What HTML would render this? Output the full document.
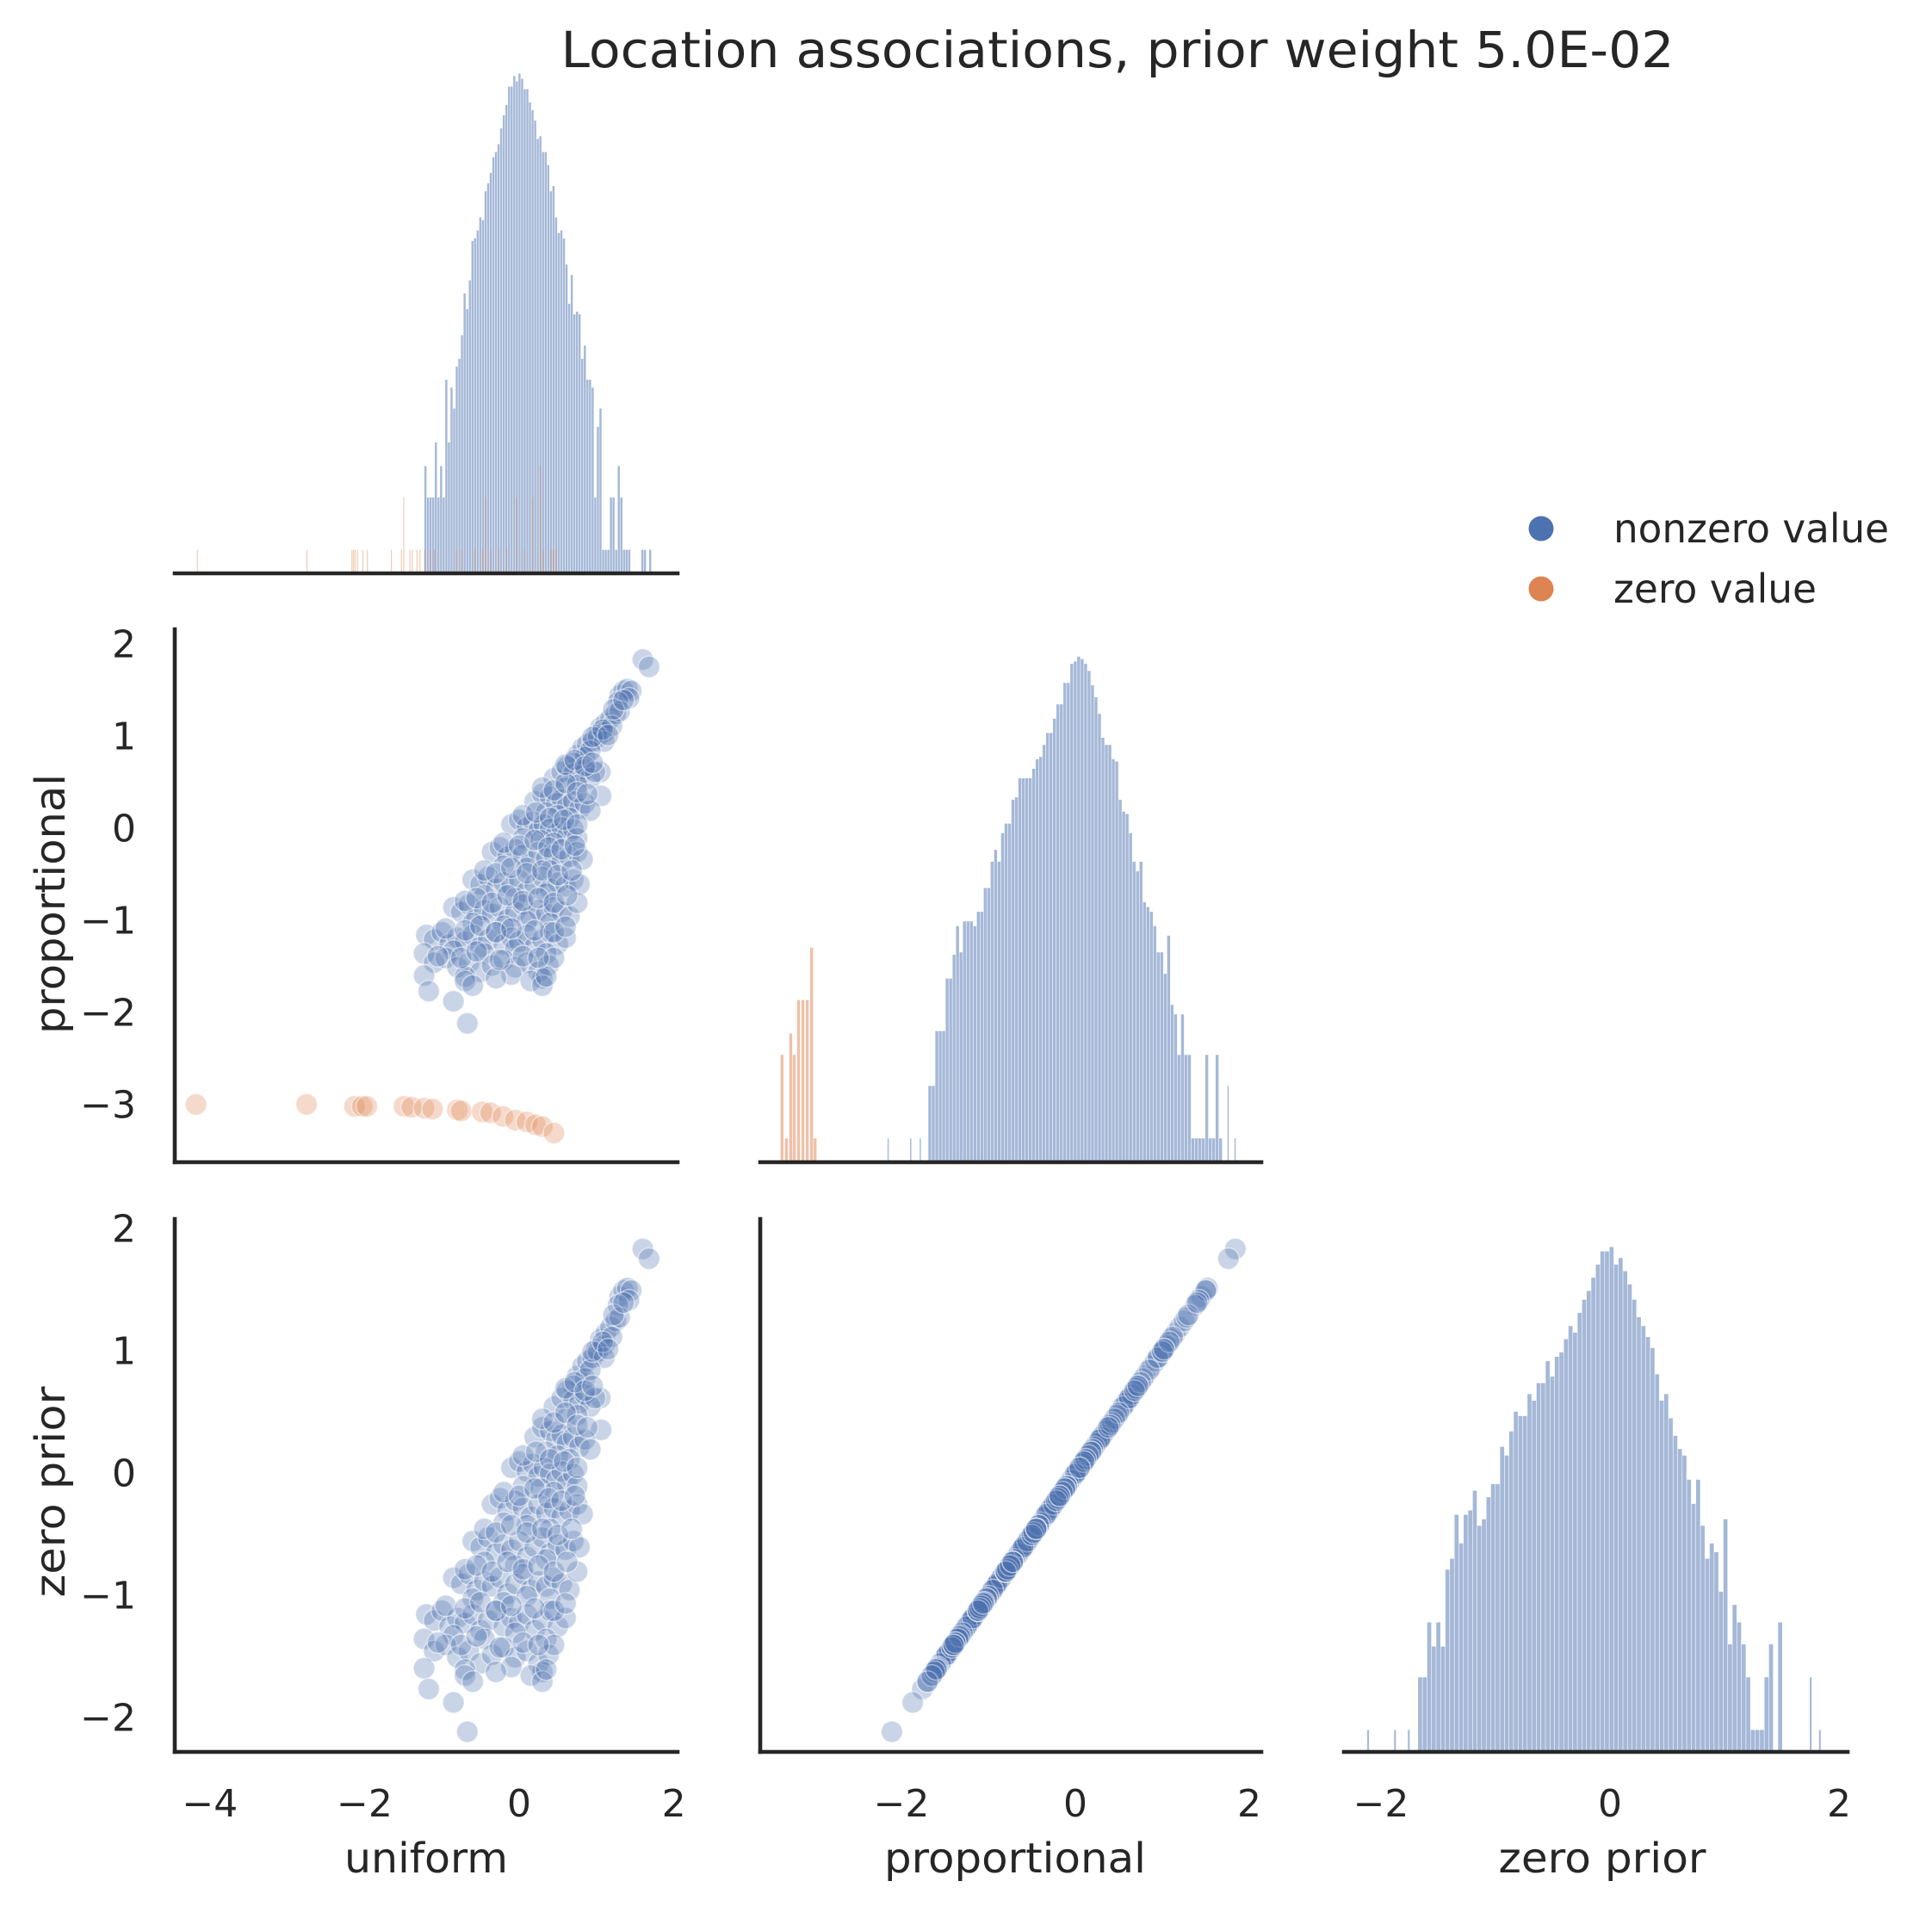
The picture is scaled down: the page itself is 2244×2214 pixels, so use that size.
<!DOCTYPE html>
<html><head><meta charset="utf-8"><style>
html,body{margin:0;padding:0;background:#fff;}
svg{display:block;font-family:"DejaVu Sans","Liberation Sans",sans-serif;}
</style></head><body>
<svg id="chart" width="2244" height="2214" viewBox="0 0 2244 2214" xmlns="http://www.w3.org/2000/svg">
<rect width="2244" height="2214" fill="#fff"/>
<text x="1298" y="78" font-size="58" fill="#262626" text-anchor="middle" textLength="1293" lengthAdjust="spacingAndGlyphs">Location associations, prior weight 5.0E-02</text>
<g id="plots"></g>
<g>
<circle cx="1790" cy="614" r="14.5" fill="#4c72b0"/>
<text x="1874" y="614" dy="0.35em" font-size="46" fill="#262626" textLength="320" lengthAdjust="spacingAndGlyphs">nonzero value</text>
<circle cx="1790" cy="684" r="14.5" fill="#dd8452"/>
<text x="1874" y="684" dy="0.35em" font-size="46" fill="#262626" textLength="236" lengthAdjust="spacingAndGlyphs">zero value</text>
</g>
</svg>
<script>
// ---- data ----
const uniformVals = [
1.60,1.68,
1.30,1.35,1.40,1.45,1.42,1.28,
1.05,1.12,1.18,1.25,1.30,1.10,1.20,1.00,
0.75,0.82,0.88,0.95,1.02,1.10,0.85,0.92,0.70,1.05,
0.45,0.55,0.62,0.70,0.78,0.85,0.92,0.98,0.60,0.75,1.06,
0.20,0.30,0.40,0.48,0.55,0.62,0.70,0.78,0.85,0.35,0.50,0.65,0.92,
-0.10,0.00,0.10,0.18,0.25,0.32,0.40,0.48,0.55,0.62,0.70,0.05,0.28,0.45,0.75,
-0.35,-0.25,-0.15,-0.05,0.05,0.15,0.25,0.35,0.45,0.55,0.65,0.75,-0.20,0.10,0.40,0.82,
-0.60,-0.50,-0.40,-0.30,-0.20,-0.10,0.00,0.10,0.20,0.30,0.40,0.50,0.60,0.70,-0.45,-0.05,0.35,0.78,
-0.85,-0.75,-0.65,-0.55,-0.45,-0.35,-0.25,-0.15,-0.05,0.05,0.15,0.25,0.35,0.45,0.55,0.65,-0.60,-0.20,0.10,0.40,0.75,
-1.20,-1.10,-1.00,-0.90,-0.80,-0.70,-0.60,-0.50,-0.40,-0.30,-0.20,-0.10,0.00,0.10,0.20,0.30,0.40,0.50,0.60,-0.85,-0.45,-0.05,0.35,
-1.23,-1.10,-0.95,-0.80,-0.65,-0.50,-0.35,-0.20,-0.05,0.10,0.25,0.38,0.45,-0.70,-0.10,0.30,
-1.23,-1.17,-0.85,-0.70,-0.60,-0.30,0.15,0.30,0.35,
-0.67,
-1.05,-0.75,-0.55,-0.25,0.05,0.25,
-0.95,-0.70,-0.50,-0.30,-0.10,0.20,0.45,0.60,
-0.70,-0.55,-0.35,-0.15,0.05,0.25,0.45,0.62,
-0.45,-0.30,-0.10,0.10,0.30,0.50,0.68,
-0.20,0.00,0.20,0.38,0.55,0.72,
0.05,0.22,0.40,0.58,0.75,
0.30,0.45,0.60,0.75,0.88,
0.60,0.72,0.85,0.95,
0.95,1.08,1.15,
1.22,1.35];
const propVals = [
1.84,1.76,
1.45,1.50,1.52,1.50,1.42,1.38,
1.10,1.15,1.20,1.25,1.28,1.05,1.12,1.02,
0.80,0.88,0.92,0.95,1.00,0.95,0.78,0.85,0.72,0.62,
0.55,0.62,0.68,0.60,0.58,0.65,0.55,0.62,0.45,0.48,0.36,
0.30,0.38,0.35,0.28,0.32,0.25,0.30,0.22,0.28,0.18,0.15,0.12,0.20,
0.05,0.10,0.02,0.08,-0.02,0.05,0.00,-0.05,0.02,-0.08,0.00,-0.10,-0.12,-0.15,-0.10,
-0.25,-0.20,-0.30,-0.22,-0.28,-0.35,-0.25,-0.32,-0.28,-0.35,-0.30,-0.25,-0.40,-0.42,-0.45,-0.33,
-0.55,-0.60,-0.52,-0.65,-0.58,-0.62,-0.55,-0.68,-0.60,-0.52,-0.65,-0.58,-0.62,-0.55,-0.72,-0.75,-0.70,-0.60,
-0.85,-0.90,-0.82,-0.95,-0.88,-0.92,-0.85,-0.98,-0.90,-0.82,-0.95,-0.88,-0.92,-0.85,-0.90,-0.95,-1.02,-1.05,-1.00,-1.02,-0.80,
-1.15,-1.20,-1.12,-1.25,-1.18,-1.22,-1.15,-1.28,-1.20,-1.12,-1.25,-1.18,-1.22,-1.15,-1.28,-1.20,-1.12,-1.25,-1.18,-1.32,-1.35,-1.30,-1.35,
-1.35,-1.45,-1.40,-1.50,-1.45,-1.55,-1.48,-1.42,-1.50,-1.45,-1.55,-1.48,-1.40,-1.60,-1.58,-1.62,
-1.59,-1.76,-1.87,-1.65,-1.70,-1.62,-1.65,-1.70,-1.60,
-2.11,
-1.38,-1.40,-1.33,-1.42,-1.38,-1.40,
-1.08,-1.10,-1.05,-1.12,-1.08,-1.10,-1.12,-1.06,
-0.78,-0.75,-0.80,-0.72,-0.78,-0.75,-0.80,-0.72,
-0.45,-0.48,-0.42,-0.48,-0.45,-0.50,-0.45,
-0.15,-0.18,-0.12,-0.20,-0.22,-0.18,
0.15,0.18,0.12,0.10,0.05,
0.45,0.42,0.50,0.40,0.38,
0.70,0.75,0.68,0.72,
1.00,1.08,1.02,
1.30,1.40];
const zeroPriorVals = [
1.84,1.76,
1.45,1.50,1.52,1.50,1.42,1.38,
1.10,1.15,1.20,1.25,1.28,1.05,1.12,1.02,
0.80,0.88,0.92,0.95,1.00,0.95,0.78,0.85,0.72,0.62,
0.55,0.62,0.68,0.60,0.58,0.65,0.55,0.62,0.45,0.48,0.36,
0.30,0.38,0.35,0.28,0.32,0.25,0.30,0.22,0.28,0.18,0.15,0.12,0.20,
0.05,0.10,0.02,0.08,-0.02,0.05,0.00,-0.05,0.02,-0.08,0.00,-0.10,-0.12,-0.15,-0.10,
-0.25,-0.20,-0.30,-0.22,-0.28,-0.35,-0.25,-0.32,-0.28,-0.35,-0.30,-0.25,-0.40,-0.42,-0.45,-0.33,
-0.55,-0.60,-0.52,-0.65,-0.58,-0.62,-0.55,-0.68,-0.60,-0.52,-0.65,-0.58,-0.62,-0.55,-0.72,-0.75,-0.70,-0.60,
-0.85,-0.90,-0.82,-0.95,-0.88,-0.92,-0.85,-0.98,-0.90,-0.82,-0.95,-0.88,-0.92,-0.85,-0.90,-0.95,-1.02,-1.05,-1.00,-1.02,-0.80,
-1.15,-1.20,-1.12,-1.25,-1.18,-1.22,-1.15,-1.28,-1.20,-1.12,-1.25,-1.18,-1.22,-1.15,-1.28,-1.20,-1.12,-1.25,-1.18,-1.32,-1.35,-1.30,-1.35,
-1.35,-1.45,-1.40,-1.50,-1.45,-1.55,-1.48,-1.42,-1.50,-1.45,-1.55,-1.48,-1.40,-1.60,-1.58,-1.62,
-1.59,-1.76,-1.87,-1.65,-1.70,-1.62,-1.65,-1.70,-1.60,
-2.11,
-1.38,-1.40,-1.33,-1.42,-1.38,-1.40,
-1.08,-1.10,-1.05,-1.12,-1.08,-1.10,-1.12,-1.06,
-0.78,-0.75,-0.80,-0.72,-0.78,-0.75,-0.80,-0.72,
-0.45,-0.48,-0.42,-0.48,-0.45,-0.50,-0.45,
-0.15,-0.18,-0.12,-0.20,-0.22,-0.18,
0.15,0.18,0.12,0.10,0.05,
0.45,0.42,0.50,0.40,0.38,
0.70,0.75,0.68,0.72,
1.00,1.08,1.02,
1.30,1.40];
const zeroUniformVals = [-4.18,-2.75,-2.13,-2.03,-1.97,-1.49,-1.39,-1.23,-1.12,-0.80,-0.75,-0.48,-0.37,-0.21,-0.05,0.10,0.21,0.30,0.45];
const zeroPropVals = [-2.99,-2.99,-3.01,-3.01,-3.01,-3.01,-3.02,-3.03,-3.04,-3.05,-3.06,-3.07,-3.08,-3.12,-3.16,-3.18,-3.21,-3.23,-3.30];

// uniform histogram (nonzero) : bin start, bin width, counts
const uniformHistStart = -1.226;
const uniformHistWidth = 0.0338;
const uniformHistCounts = [4.1,2.9,2.9,2.9,5.0,2.9,4.1,2.9,7.4,5.0,7.1,6.3,7.9,8.2,9.1,10.7,10.1,11.2,12.7,12.8,13.1,13.6,13.5,14.6,14.9,15.3,15.9,16.1,16.4,17.0,17.5,17.9,18.6,18.6,19.0,18.8,19.1,18.9,18.5,18.5,18.0,17.7,17.3,16.6,16.7,16.1,16.1,15.6,14.6,14.8,13.6,13.0,13.1,12.8,11.8,10.3,11.4,9.9,10.0,9.9,8.2,8.7,7.4,7.4,7.1,2.9,5.6,6.3,0.9,0.9,0.9,2.9,2.9,0.9,4.1,2.9,0.9,0.9,0.9,0,0,0,0,0.9,0.9,0,0.9];
// uniform histogram (zero values): bin centers and counts
const uniformZeroBins = [-4.16,-2.74,-2.16,-2.14,-2.12,-2.09,-2.02,-1.96,-1.65,-1.52,-1.49,-1.41,-1.38,-1.32,-1.28,-1.22,-1.15,-1.09,-0.81,-0.74,-0.57,-0.47,-0.43,-0.36,-0.26,-0.16,-0.03,0.07,0.18,0.28,0.31,0.41,0.44,0.48];
const uniformZeroCounts = [0.9,0.9,0.9,0.9,0.9,0.9,0.9,0.9,0.9,0.9,2.9,0.9,0.9,0.9,0.9,0.9,0.9,0.9,0.9,0.9,0.9,0.9,2.9,0.9,0.9,0.9,2.9,0.9,2.9,4.1,0.9,0.9,0.9,0.9];

// proportional histogram (nonzero)
const propHistStart = -1.69;
const propHistWidth = 0.0398;
const propHistCounts = [3.2,3.2,5.5,5.5,5.5,7.7,7.7,8.7,9.9,8.8,10.1,10.1,10.1,9.9,10.5,10.5,11.5,11.5,12.6,13.1,12.6,13.8,14.2,14.2,15.2,15.3,16.1,16.1,16.1,16.1,16.5,16.9,17.0,17.5,18.0,18.0,18.6,19.2,19.2,20.1,20.1,20.9,21.0,21.2,21.1,20.9,20.6,20.0,19.5,18.8,17.8,17.5,17.5,16.9,16.8,15.2,14.7,14.6,13.8,12.6,12.2,12.6,10.9,10.7,10.5,9.9,8.8,8.8,7.9,9.5,6.6,6.2,4.5,6.2,4.5,4.5,1,1,1,1,4.5,1,1,4.5,1];
const propOutlierBins = [-2.14,-1.88,-1.77,1.77,1.85];
const propOutlierCounts = [1,1,1,3.2,1];
const propZeroBins = [-3.37,-3.32,-3.27,-3.23,-3.18,-3.13,-3.08,-3.03,-2.99];
const propZeroCounts = [4.5,1,5.4,4.5,6.8,6.8,6.8,9.0,1];

// zero prior histogram
const zpHistStart = -1.676;
const zpHistWidth = 0.0398;
const zpHistCounts = [3.4,3.4,5.9,4.8,5.9,4.8,8.3,8.8,10.8,9.5,10.8,11.0,11.9,10.3,10.6,11.6,12.2,12.2,13.9,13.5,14.6,15.5,15.3,15.3,16.3,16.0,16.8,16.8,17.8,17.1,18.0,18.2,18.8,19.4,19.1,20.0,20.6,21.0,21.6,22.2,22.8,22.8,23.0,22.2,22.5,21.9,21.3,20.6,19.8,19.4,18.9,18.4,17.2,16.0,16.3,15.2,14.4,13.8,13.5,12.4,11.3,12.4,10.3,8.8,9.5,9.1,7.3,10.6,4.9,6.7,5.9,4.9,3.4,1,1,1,3.4,4.9,0,5.9];
const zpOutlierBins = [-2.105,-1.87,-1.75,1.76,1.84];
const zpOutlierCounts = [1,1,1,3.4,1];

const uniformTicks = [-4,-2,0,2];
const propXTicks = [-2,0,2];
const zpXTicks = [-2,0,2];
const propYTicks = [-3,-2,-1,0,1,2];
const zpYTicks = [-2,-1,0,1,2];

// ---- scales ----
const X0 = v => 603 + v*89.8;   // uniform
const X1 = v => 1249 + v*101;   // proportional
const X2 = v => 1870 + v*133;   // zero prior
const Y1 = v => 963 - v*107;    // proportional (row 1)
const Y2 = v => 1712 - v*142;   // zero prior (row 2)
const H0 = c => 666 - c*30.4;
const H1 = c => 1350 - c*27.7;
const H2 = c => 2035 - c*25.5;

const NS = 'http://www.w3.org/2000/svg';
const root = document.getElementById('plots');
function mk(tag, attrs, parent){
  const e = document.createElementNS(NS, tag);
  for (const k in attrs) e.setAttribute(k, attrs[k]);
  (parent||root).appendChild(e);
  return e;
}
const BLUE='#4c72b0', ORANGE='#dd8452', INK='#262626';

function group(name){
  const g = mk('g', {});
  
  
  return g;
}

function bars(g, starts, width, counts, H, X, color, nameBase){
  counts.forEach((c,i)=>{
    if (c<=0) return;
    const v = starts(i);
    const x0 = X(v), x1 = X(v+width);
    const r = mk('rect', {x:x0, y:H(c), width:Math.max(1,x1-x0-0.6), height:H(0)-H(c), fill:color, 'fill-opacity':0.5}, g);
    
    
  });
}

function points(g, xs, ys, X, Y, color, nameBase){
  xs.forEach((v,i)=>{
    const c = mk('circle', {cx:X(v), cy:Y(ys[i]), r:12.5, fill:color, 'fill-opacity':0.3, stroke:'#fff', 'stroke-opacity':0.5, 'stroke-width':1.5}, g);
    
    
  });
}

function spine(x1,y1,x2,y2,name){
  const l = mk('line', {x1,y1,x2,y2, stroke:INK, 'stroke-width':4.6, 'stroke-linecap':'square'});
  
  
}

function label(txt, x, y, attrs, name){
  const t = mk('text', Object.assign({x, y, fill:INK}, attrs));
  t.textContent = txt;
  
  
  return t;
}

// ---- row 0: uniform histogram ----
const g00 = group('uniform-histogram');
bars(g00, i=>uniformHistStart+i*uniformHistWidth, uniformHistWidth, uniformHistCounts, H0, X0, BLUE, 'uniform-hist-bar');
bars(g00, i=>uniformZeroBins[i]-0.008, 0.016, uniformZeroCounts, H0, X0, ORANGE, 'uniform-zero-hist-bar');
spine(203,666,787,666,'uniform-hist-x-axis');

// ---- row 1 col 0: uniform vs proportional ----
const g10 = group('uniform-vs-proportional-scatter');
points(g10, uniformVals, propVals, X0, Y1, BLUE, 'nonzero-point');
points(g10, zeroUniformVals, zeroPropVals, X0, Y1, ORANGE, 'zero-point');
spine(203,731,203,1350,'row1-y-axis');
spine(203,1350,787,1350,'row1-col0-x-axis');
propYTicks.forEach(t=>label(t<0?'\u2212'+(-t):String(t), 158, Y1(t), {'font-size':44,'text-anchor':'end','dominant-baseline':'central'}, 'y-tick-label'));
label('proportional', 0, 0, {'font-size':48,'text-anchor':'middle',transform:'translate(75,1050) rotate(-90)',textLength:302,lengthAdjust:'spacingAndGlyphs'}, 'y-axis-title-proportional');

// ---- row 1 col 1: proportional histogram ----
const g11 = group('proportional-histogram');
bars(g11, i=>propHistStart+i*propHistWidth, propHistWidth, propHistCounts, H1, X1, BLUE, 'proportional-hist-bar');
bars(g11, i=>propOutlierBins[i]-0.02, 0.02, propOutlierCounts, H1, X1, BLUE, 'proportional-hist-bar');
bars(g11, i=>propZeroBins[i]-0.02, 0.04, propZeroCounts, H1, X1, ORANGE, 'proportional-zero-hist-bar');
spine(883,1350,1465,1350,'row1-col1-x-axis');

// ---- row 2 col 0: uniform vs zero prior ----
const g20 = group('uniform-vs-zero-prior-scatter');
points(g20, uniformVals, zeroPriorVals, X0, Y2, BLUE, 'nonzero-point');
spine(203,1416,203,2035,'row2-y-axis');
spine(203,2035,787,2035,'uniform-x-axis');
zpYTicks.forEach(t=>label(t<0?'\u2212'+(-t):String(t), 158, Y2(t), {'font-size':44,'text-anchor':'end','dominant-baseline':'central'}, 'y-tick-label'));
label('zero prior', 0, 0, {'font-size':48,'text-anchor':'middle',transform:'translate(75,1733) rotate(-90)',textLength:245,lengthAdjust:'spacingAndGlyphs'}, 'y-axis-title-zero-prior');
uniformTicks.forEach(t=>label(t<0?'\u2212'+(-t):String(t), X0(t), 2110, {'font-size':44,'text-anchor':'middle'}, 'x-tick-label'));
label('uniform', 495, 2175, {'font-size':48,'text-anchor':'middle',textLength:190,lengthAdjust:'spacingAndGlyphs'}, 'x-axis-title-uniform');

// ---- row 2 col 1: proportional vs zero prior ----
const g21 = group('proportional-vs-zero-prior-scatter');
points(g21, propVals, zeroPriorVals, X1, Y2, BLUE, 'nonzero-point');
spine(883,1416,883,2035,'row2-col1-y-axis');
spine(883,2035,1465,2035,'proportional-x-axis');
propXTicks.forEach(t=>label(t<0?'\u2212'+(-t):String(t), X1(t), 2110, {'font-size':44,'text-anchor':'middle'}, 'x-tick-label'));
label('proportional', 1179, 2175, {'font-size':48,'text-anchor':'middle',textLength:304,lengthAdjust:'spacingAndGlyphs'}, 'x-axis-title-proportional');

// ---- row 2 col 2: zero prior histogram ----
const g22 = group('zero-prior-histogram');
bars(g22, i=>zpHistStart+i*zpHistWidth, zpHistWidth, zpHistCounts, H2, X2, BLUE, 'zero-prior-hist-bar');
bars(g22, i=>zpOutlierBins[i]-0.015, 0.02, zpOutlierCounts, H2, X2, BLUE, 'zero-prior-hist-bar');
spine(1561,2035,2146,2035,'zero-prior-x-axis');
zpXTicks.forEach(t=>label(t<0?'\u2212'+(-t):String(t), X2(t), 2110, {'font-size':44,'text-anchor':'middle'}, 'x-tick-label'));
label('zero prior', 1861, 2175, {'font-size':48,'text-anchor':'middle',textLength:241,lengthAdjust:'spacingAndGlyphs'}, 'x-axis-title-zero-prior');
</script>
</body></html>
